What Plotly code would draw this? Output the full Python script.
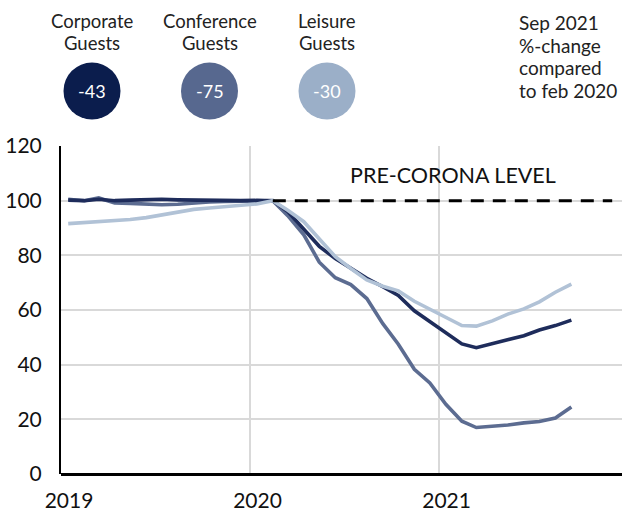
import plotly.graph_objects as go

# ---------------- data ----------------
months = [
    "2019-01-15", "2019-02-15", "2019-03-15", "2019-04-15", "2019-05-15", "2019-06-15",
    "2019-07-15", "2019-08-15", "2019-09-15", "2019-10-15", "2019-11-15", "2019-12-15",
    "2020-01-15", "2020-02-15", "2020-03-15", "2020-04-15", "2020-05-15", "2020-06-15",
    "2020-07-15", "2020-08-15", "2020-09-15", "2020-10-15", "2020-11-15", "2020-12-15",
    "2021-01-15", "2021-02-15", "2021-03-15", "2021-04-15", "2021-05-15", "2021-06-15",
    "2021-07-15", "2021-08-15", "2021-09-15",
]
corporate = [100.2, 100.0, 100.5, 100.0, 100.2, 100.4, 100.5, 100.3, 100.2, 100.0, 100.0, 100.0,
             100.1, 100.0, 96.0, 89.5, 83.3, 78.8, 75.3, 71.6, 68.5, 65.3, 59.7, 55.8,
             51.8, 47.6, 46.2, 47.7, 49.3, 50.6, 52.7, 54.3, 56.3]
conference = [100.5, 100.0, 101.0, 99.2, 99.0, 98.6, 98.5, 98.7, 99.2, 99.5, 99.7, 99.9,
              100.0, 100.0, 94.5, 87.5, 77.5, 71.8, 69.3, 64.2, 55.0, 47.5, 38.3, 33.3,
              25.5, 19.3, 17.0, 17.4, 17.9, 18.7, 19.2, 20.5, 24.5]
leisure = [91.6, 92.0, 92.2, 92.6, 93.1, 93.8, 94.8, 96.0, 96.8, 97.3, 97.8, 98.3,
           98.8, 100.0, 96.5, 92.3, 85.9, 79.5, 75.2, 71.0, 68.7, 67.0, 63.2, 60.2,
           57.3, 54.3, 54.1, 56.0, 58.5, 60.4, 63.0, 66.5, 69.5]

series_names = ["Corporate<br>Guests", "Conference<br>Guests", "Leisure<br>Guests"]
series_change = ["-43", "-75", "-30"]

pre_corona_level = 100
pre_corona_dates = ["2020-02-15", "2021-12-03"]
pre_corona_label = "PRE-CORONA LEVEL"

note_lines = ["Sep 2021", "%-change", "compared", "to feb 2020"]

y_ticks = [0, 20, 40, 60, 80, 100, 120]

# ---------------- styling ----------------
FONT = "Lato"
line_colors = {"corp": "#1e2c5b", "conf": "#5c6c91", "leis": "#b1c2d6"}
circle_colors = ["#0b1d4d", "#57688f", "#9bafc8"]

W, H = 622, 515
L, R, T, B = 61, 0, 146, 41
PW, PH = W - L - R, H - T - B


def px(x):
    return (x - L) / PW


def py(y):
    return (H - B - y) / PH


fig = go.Figure()

fig.add_trace(go.Scatter(x=months, y=conference, mode="lines",
                         line=dict(color=line_colors["conf"], width=3.6), hoverinfo="skip"))
fig.add_trace(go.Scatter(x=months, y=corporate, mode="lines",
                         line=dict(color=line_colors["corp"], width=3.6), hoverinfo="skip"))
fig.add_trace(go.Scatter(x=months, y=leisure, mode="lines",
                         line=dict(color=line_colors["leis"], width=3.6), hoverinfo="skip"))
fig.add_trace(go.Scatter(x=pre_corona_dates, y=[pre_corona_level] * len(pre_corona_dates),
                         mode="lines", line=dict(color="#000000", width=3, dash="13px,9px"),
                         hoverinfo="skip"))

annotations = []
annotations.append(dict(x="2021-01-29", y=109.5, xref="x", yref="y", text=pre_corona_label,
                        showarrow=False, font=dict(family=FONT, size=21.5, color="#111111"),
                        xanchor="center", yanchor="middle"))

centers = [92, 209.5, 327]
R_C = 28.5
shapes = []
HEAD = 18.5
for cx, col, name, chg in zip(centers, circle_colors, series_names, series_change):
    l1, l2 = name.split("<br>")
    annotations.append(dict(x=px(cx), y=py(20.5), xref="paper", yref="paper", text=l1,
                            showarrow=False, font=dict(family=FONT, size=HEAD, color="#222222"),
                            xanchor="center", yanchor="middle"))
    annotations.append(dict(x=px(cx), y=py(43), xref="paper", yref="paper", text=l2,
                            showarrow=False, font=dict(family=FONT, size=HEAD, color="#222222"),
                            xanchor="center", yanchor="middle"))
    shapes.append(dict(type="circle", xref="paper", yref="paper",
                       x0=px(cx - R_C), x1=px(cx + R_C), y0=py(91 + R_C), y1=py(91 - R_C),
                       fillcolor=col, line=dict(width=0)))
    annotations.append(dict(x=px(cx), y=py(91), xref="paper", yref="paper", text=chg,
                            showarrow=False, font=dict(family=FONT, size=18, color="#ffffff"),
                            xanchor="center", yanchor="middle"))

for i, t in enumerate(note_lines):
    annotations.append(dict(x=px(517), y=py(22.5 + i * 22.6), xref="paper", yref="paper", text=t,
                            showarrow=False, font=dict(family=FONT, size=19, color="#222222"),
                            xanchor="left", yanchor="middle"))

fig.update_layout(
    width=W, height=H,
    margin=dict(l=L, r=R, t=T, b=B, pad=0),
    paper_bgcolor="white", plot_bgcolor="white",
    showlegend=False,
    annotations=annotations,
    shapes=shapes,
    font=dict(family=FONT, size=21, color="#111111"),
    xaxis=dict(
        type="date", range=["2019-01-01", "2021-12-22"],
        tick0="2019-01-01", dtick="M12", tickformat="%Y",
        showgrid=True, gridcolor="#d9d9d9", gridwidth=1.5,
        showline=False, zeroline=False, ticks="", ticklabelstandoff=12,
        ticklabelshift=8, tickfont=dict(family=FONT, size=21, color="#111111"),
    ),
    yaxis=dict(
        range=[0, 120], tickvals=y_ticks,
        showgrid=True, gridcolor="#d9d9d9", gridwidth=1.5,
        showline=True, linecolor="#000000", linewidth=2, mirror=False,
        zeroline=True, zerolinecolor="#000000", zerolinewidth=2.5,
        ticks="", ticklabelstandoff=13, tickfont=dict(family=FONT, size=21, color="#111111"),
    ),
)

fig.write_html("out.html", config={"displayModeBar": False},
               post_script="document.body.style.margin='0';document.body.style.overflow='hidden';")
